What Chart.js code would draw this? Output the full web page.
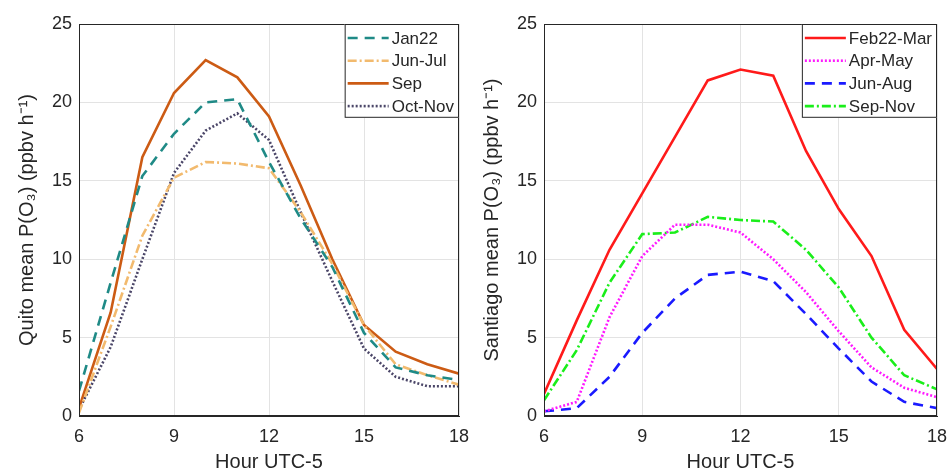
<!DOCTYPE html>
<html>
<head>
<meta charset="utf-8">
<script src="https://cdn.jsdelivr.net/npm/chart.js@4.4.1/dist/chart.umd.min.js"></script>
<style>
  body { margin: 0; background: #fff; }
  .wrap { display: flex; width: 948px; height: 474px; }
  .cell { position: relative; width: 474px; height: 474px; }
</style>
</head>
<body>
<div class="wrap">
  <div class="cell"><canvas id="quito"></canvas></div>
  <div class="cell"><canvas id="santiago"></canvas></div>
</div>
<script>
const hours = [6, 7, 8, 9, 10, 11, 12, 13, 14, 15, 16, 17, 18];
const xTicks = [6, 9, 12, 15, 18];

// Quito
const jan22 = [1.6, 8.5, 15.3, 18.0, 20.0, 20.2, 16.2, 12.6, 9.5, 5.3, 3.1, 2.6, 2.3];
const junJul = [0.2, 5.7, 11.5, 15.2, 16.2, 16.1, 15.8, 13.0, 9.7, 5.8, 3.3, 2.6, 2.0];
const sep = [0.5, 6.6, 16.5, 20.6, 22.7, 21.6, 19.1, 14.7, 10.0, 5.8, 4.1, 3.3, 2.7];
const octNov = [0.4, 4.4, 10.0, 15.5, 18.2, 19.3, 17.6, 13.0, 8.6, 4.3, 2.5, 1.9, 1.9];

// Santiago
const feb22Mar = [1.4, 6.1, 10.6, 14.2, 17.8, 21.4, 22.1, 21.7, 16.9, 13.2, 10.2, 5.5, 3.0];
const aprMay = [0.3, 0.9, 6.3, 10.2, 12.2, 12.2, 11.7, 10.0, 7.9, 5.4, 3.1, 1.8, 1.2];
const junAug = [0.3, 0.5, 2.5, 5.3, 7.5, 9.0, 9.2, 8.6, 6.5, 4.3, 2.2, 0.9, 0.5];
const sepNov = [1.0, 4.2, 8.5, 11.6, 11.7, 12.7, 12.5, 12.4, 10.6, 8.2, 5.0, 2.6, 1.7];

const FONT = '"Liberation Sans", Arial, sans-serif';
const INK = '#262626';

const pts = vals => vals.map((v, i) => ({ x: hours[i], y: v }));

// MATLAB-style box around the axes plus a legend sitting inside the top-right corner
const boxLegend = {
  id: 'boxLegend',
  afterDraw(chart) {
    const { ctx, chartArea: a } = chart;
    ctx.save();
    ctx.strokeStyle = INK;
    ctx.lineWidth = 1;
    ctx.strokeRect(a.left + 0.5, a.top + 0.5, a.right - a.left - 1, a.bottom - a.top - 1);

    ctx.font = '17px ' + FONT;
    const sets = chart.data.datasets;
    const tw = Math.max(...sets.map(d => ctx.measureText(d.label).width));
    const rowH = 22.7;
    const w = 3 + 41 + 3 + tw + 5;
    const h = sets.length * rowH + 3;
    const x0 = a.right - w, y0 = a.top;
    ctx.fillStyle = '#fff';
    ctx.fillRect(x0, y0, w, h);
    ctx.strokeRect(x0 + 0.5, y0 + 0.5, w - 1, h - 1);
    ctx.textBaseline = 'middle';
    sets.forEach((d, i) => {
      const y = y0 + 14 + i * rowH;
      ctx.strokeStyle = d.borderColor;
      ctx.lineWidth = d.borderWidth;
      ctx.setLineDash(d.borderDash || []);
      ctx.beginPath();
      ctx.moveTo(x0 + 3, y);
      ctx.lineTo(x0 + 44, y);
      ctx.stroke();
      ctx.setLineDash([]);
      ctx.fillStyle = INK;
      ctx.fillText(d.label, x0 + 47, y + 1);
    });
    ctx.restore();
  }
};

function makeChart(id, yTitle, sets, yWidth, padRight, titlePad) {
  new Chart(document.getElementById(id), {
    type: 'line',
    data: {
      datasets: sets.map(s => ({
        label: s.label,
        data: pts(s.data),
        borderColor: s.color,
        borderWidth: 2.6,
        borderDash: s.dash,
        pointRadius: 0,
        fill: false,
        tension: 0
      }))
    },
    options: {
      responsive: true,
      maintainAspectRatio: false,
      animation: false,
      layout: { padding: { top: 24, right: padRight, left: 0, bottom: 0 } },
      plugins: { legend: { display: false }, tooltip: { enabled: false } },
      scales: {
        x: {
          type: 'linear',
          min: 6, max: 18,
          afterBuildTicks: s => { s.ticks = xTicks.map(v => ({ value: v })); },
          afterFit: s => { s.height = 58; s.paddingLeft = 0; s.paddingRight = 0; },
          grid: { color: '#e3e3e3', drawTicks: false },
          border: { color: INK },
          ticks: { color: INK, font: { family: FONT, size: 18 }, padding: 10 },
          title: { display: true, text: 'Hour UTC-5', color: INK, font: { family: FONT, size: 20 }, padding: 0 }
        },
        y: {
          min: 0, max: 25,
          ticks: { stepSize: 5, color: INK, font: { family: FONT, size: 18 }, padding: 7 },
          afterFit: s => { s.width = yWidth; s.paddingTop = 0; s.paddingBottom = 0; },
          grid: { color: '#e3e3e3', drawTicks: false },
          border: { color: INK },
          title: { display: true, text: yTitle, color: INK, font: { family: FONT, size: 20 }, padding: titlePad }
        }
      }
    },
    plugins: [boxLegend]
  });
}

makeChart('quito', 'Quito mean P(O\u2083) (ppbv h\u207B\u00B9)', [
  { label: 'Jan22', data: jan22, color: '#1f8a86', dash: [10, 7] },
  { label: 'Jun-Jul', data: junJul, color: '#f2ba6e', dash: [9, 3, 2, 3] },
  { label: 'Sep', data: sep, color: '#cc5b14', dash: [] },
  { label: 'Oct-Nov', data: octNov, color: '#4b4668', dash: [2, 2] }
], 79, 15, 15);

makeChart('santiago', 'Santiago mean P(O\u2083) (ppbv h\u207B\u00B9)', [
  { label: 'Feb22-Mar', data: feb22Mar, color: '#ff1a1a', dash: [] },
  { label: 'Apr-May', data: aprMay, color: '#ff1aff', dash: [2, 2] },
  { label: 'Jun-Aug', data: junAug, color: '#1a1aff', dash: [10, 7] },
  { label: 'Sep-Nov', data: sepNov, color: '#1aee1a', dash: [9, 3, 2, 3] }
], 70, 11, 6);
</script>
</body>
</html>
